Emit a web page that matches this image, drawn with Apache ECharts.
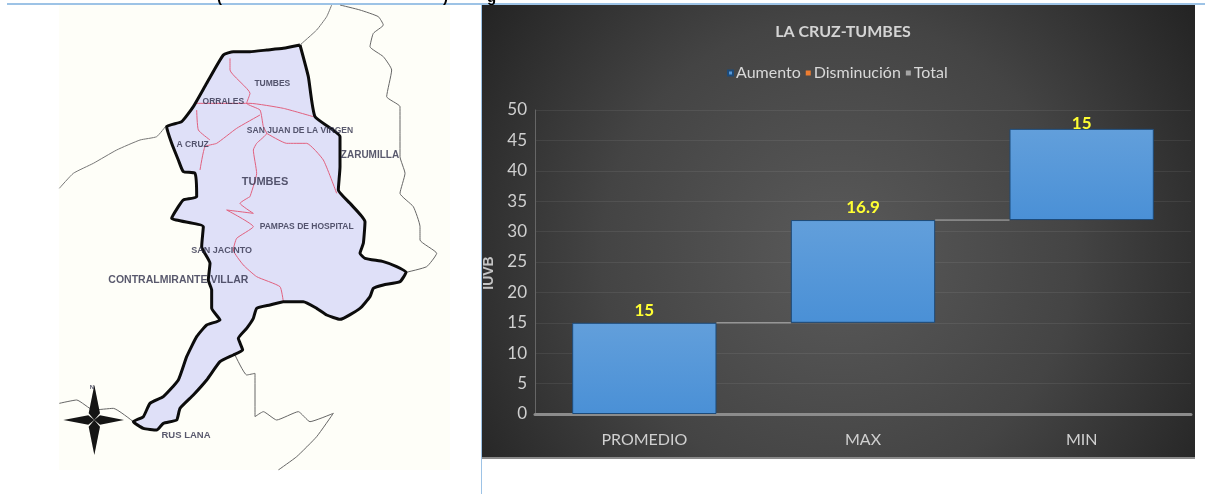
<!DOCTYPE html>
<html>
<head>
<meta charset="utf-8" />
<style>
  html, body { margin: 0; padding: 0; background: #fff; }
  #chart { width: 1205px; height: 494px; }
</style>
</head>
<body>
<div id="chart"></div>
<script src="https://cdn.jsdelivr.net/npm/echarts@6/dist/echarts.min.js"></script>
<script>
// waterfall values
const categories = ["PROMEDIO", "MAX", "MIN"];
const baseValues = [0, 15, 31.9];
const riseValues = [15, 16.9, 15];
const yTicks = [0, 5, 10, 15, 20, 25, 30, 35, 40, 45, 50];
const legendNames = ["Aumento", "Disminución", "Total"];

// map traces, in map units
const tumbesOutline = [
  [750, 135], [775, 230], [795, 350], [870, 410], [870, 500], [865, 570], [900, 610], [945, 665],
  [940, 730], [930, 760], [945, 775], [1000, 785], [1040, 800], [1068, 817], [1050, 845], [1000, 855],
  [970, 865], [960, 890], [930, 925], [870, 958], [830, 945], [800, 925], [760, 905], [700, 905],
  [660, 915], [620, 925], [610, 955], [590, 985], [565, 1015], [578, 1050], [550, 1065], [510, 1085],
  [470, 1140], [430, 1185], [390, 1225], [380, 1260], [340, 1270], [320, 1290], [280, 1285], [250, 1265],
  [280, 1250], [300, 1210], [340, 1190], [385, 1140], [410, 1070], [440, 1010], [470, 975], [510, 960],
  [485, 925], [485, 870], [475, 840], [480, 790], [455, 740], [460, 680], [365, 655], [385, 620],
  [400, 600], [440, 590], [435, 520], [400, 515], [385, 480], [365, 430], [350, 380], [395, 365],
  [430, 320], [470, 250], [520, 165], [550, 155], [600, 155], [650, 150], [700, 145], [750, 135]
];
const coastNorth = [[750, 135], [800, 90], [830, 50], [845, 15]];
const coastWest = [[350, 375], [320, 410], [270, 420], [200, 450], [130, 490], [70, 520], [28, 565]];
const borderEast = [
  [870, 15], [930, 30], [985, 50], [1000, 75], [970, 100], [960, 140], [1000, 170], [1025, 210],
  [1010, 290], [1050, 320], [1050, 400], [1050, 470], [1065, 520], [1050, 580], [1090, 620], [1110, 680],
  [1110, 720], [1160, 760], [1130, 800], [1068, 817]
];
const borderSouth = [
  [555, 1065], [590, 1125], [615, 1120], [615, 1250], [640, 1235], [680, 1260], [745, 1235], [780, 1265],
  [850, 1240], [800, 1310], [740, 1370], [685, 1410]
];
const borderWest = [[28, 1210], [80, 1200], [130, 1230], [190, 1225], [250, 1265]];
const roads = [
  [[540, 175], [540, 210], [600, 280], [590, 310], [630, 330], [640, 380], [650, 400], [620, 430], [610, 450], [620, 520], [600, 590]],
  [[440, 310], [600, 310], [700, 325], [790, 350]],
  [[630, 345], [560, 385], [500, 430], [465, 440], [450, 510]],
  [[440, 330], [445, 390], [480, 420]],
  [[650, 400], [710, 430], [770, 430], [820, 480], [860, 580]],
  [[600, 590], [570, 610], [610, 640], [530, 630], [610, 680], [560, 715], [550, 750], [580, 795], [620, 830], [690, 860], [700, 905]]
];
const compassArms = [
  [[133, 1155], [150, 1240], [133, 1260], [116, 1240]],
  [[133, 1365], [150, 1280], [133, 1260], [116, 1280]],
  [[40, 1260], [115, 1246], [133, 1260], [115, 1274]],
  [[222, 1260], [150, 1246], [133, 1260], [150, 1274]]
];
const placeNames = ["TUMBES", "ORRALES", "SAN JUAN DE LA VIRGEN", "A CRUZ", "TUMBES", "ZARUMILLA", "PAMPAS DE HOSPITAL", "SAN JACINTO", "CONTRALMIRANTE VILLAR", "RUS LANA", "N"];
const placeX = [667, 520, 750, 428, 645, 960, 770, 515, 385, 408, 126];
const placeY = [252, 306, 392, 435, 545, 465, 681, 752, 841, 1307, 1163];

const labelFont = "Lato, 'Liberation Sans', sans-serif";
const placeFontSizes = [8.5, 8.5, 8.5, 8.5, 11, 10, 8.5, 9, 10.5, 9.5, 6];

function pathSeries(points, width, color) {
  return {
    type: "line",
    xAxisIndex: 1,
    yAxisIndex: 1,
    data: points,
    symbol: "none",
    silent: true,
    smooth: 0.15,
    lineStyle: { width: width, color: color },
    z: 3,
  };
}

function polygonSeries(polygons, color, z) {
  return {
    type: "custom",
    xAxisIndex: 1,
    yAxisIndex: 1,
    silent: true,
    data: polygons.map((item, i) => [i]),
    encode: { x: -1, y: -1 },
    z: z,
    renderItem(params, api) {
      return {
        type: "polygon",
        shape: { points: polygons[params.dataIndex].map((p) => api.coord(p)) },
        style: { fill: color },
      };
    },
  };
}

const chart = echarts.init(document.getElementById("chart"));
chart.setOption({
  animation: false,
  backgroundColor: "#fff",
  graphic: [
    {
      type: "rect",
      z: -10,
      shape: { x: 482, y: 5, width: 713, height: 453 },
      style: {
        fill: new echarts.graphic.RadialGradient(0.5, 0.55, 0.95, [
          { offset: 0, color: "#5a5a5a" },
          { offset: 0.55, color: "#444" },
          { offset: 1, color: "#242424" },
        ]),
      },
    },
    { type: "rect", z: -9, shape: { x: 482, y: 457, width: 713, height: 2 }, style: { fill: "#8a8a8a" } },
    { type: "rect", z: -8, shape: { x: 7, y: 3, width: 1198, height: 2 }, style: { fill: "#9dc3e6" } },
    { type: "rect", z: -8, shape: { x: 481, y: 4, width: 1, height: 490 }, style: { fill: "#9dc3e6" } },
    { type: "text", z: -7, style: { text: "(", x: 217, y: -10, fill: "#000", font: "bold 15px 'Liberation Sans'" } },
    { type: "text", z: -7, style: { text: ")", x: 443, y: -10, fill: "#000", font: "bold 15px 'Liberation Sans'" } },
    { type: "text", z: -7, style: { text: "g", x: 487, y: -10, fill: "#000", font: "bold 15px 'Liberation Sans'" } },
  ],
  title: {
    text: "LA CRUZ-TUMBES",
    left: 838,
    top: 19,
    textAlign: "center",
    textStyle: { color: "#d4d4d4", fontFamily: labelFont, fontSize: 16, fontWeight: "bold" },
  },
  legend: {
    data: legendNames,
    left: 722,
    top: 60,
    itemWidth: 5,
    itemHeight: 5,
    itemGap: 5,
    icon: "rect",
    textStyle: { color: "#d8d8d8", fontFamily: labelFont, fontSize: 16, padding: [0, 0, 0, -2] },
  },
  grid: [
    { left: 535, right: 14, top: 110, bottom: 80 },
    { left: 59, top: 5, width: 391, height: 465, show: true, backgroundColor: "#fefef8", borderWidth: 0 },
  ],
  xAxis: [
    {
      type: "category",
      data: categories,
      axisTick: { show: false },
      axisLine: { lineStyle: { color: "#8c8c8c", width: 3 } },
      axisLabel: { color: "#d0d0d0", fontFamily: labelFont, fontSize: 16, margin: 18 },
    },
    { type: "value", gridIndex: 1, show: false, min: 27, max: 1200 },
  ],
  yAxis: [
    {
      type: "value",
      min: yTicks[0],
      max: yTicks[yTicks.length - 1],
      interval: yTicks[1] - yTicks[0],
      name: "IUVB",
      nameLocation: "middle",
      nameGap: 29,
      nameRotate: 90,
      nameTextStyle: { color: "#c4c4c4", fontFamily: "'Liberation Sans', sans-serif", fontSize: 14, fontWeight: "bold", padding: [0, 0, 0, -22] },
      axisTick: { show: false },
      axisLine: { show: true, lineStyle: { color: "#666" } },
      axisLabel: { color: "#cfcfcf", fontFamily: labelFont, fontSize: 17, margin: 8 },
      splitLine: { lineStyle: { color: "rgba(255,255,255,0.07)" } },
    },
    { type: "value", gridIndex: 1, show: false, inverse: true, min: 15, max: 1410 },
  ],
  series: [
    {
      name: "base",
      type: "bar",
      stack: "fall",
      silent: true,
      barCategoryGap: "34%",
      itemStyle: { color: "transparent" },
      data: baseValues,
    },
    {
      name: "Aumento",
      type: "bar",
      stack: "fall",
      itemStyle: {
        color: new echarts.graphic.LinearGradient(0, 0, 0, 1, [
          { offset: 0, color: "#629fdb" },
          { offset: 1, color: "#4a90d6" },
        ]),
        borderColor: "#1d4a78",
        borderWidth: 1,
      },
      data: riseValues.map((value, i) => ({
        value: value,
        label: {
          show: true,
          position: "top",
          distance: i === riseValues.length - 1 ? -3 : 4,
          color: "#ffff33",
          fontFamily: labelFont,
          fontSize: 17,
          fontWeight: "bold",
        },
      })),
    },
    { name: "Disminución", type: "bar", stack: "fall", itemStyle: { color: "#ed7d31" }, data: [] },
    { name: "Total", type: "bar", stack: "fall", itemStyle: { color: "#a5a5a5" }, data: [] },
    {
      // lineas entre barras
      type: "custom",
      silent: true,
      data: baseValues.slice(1),
      encode: { y: 0 },
      z: 3,
      renderItem(params, api) {
        const i = params.dataIndex;
        const value = api.value(0);
        const band = api.size([1, 0])[0];
        const half = band * 0.33;
        const from = api.coord([i, value]);
        const to = api.coord([i + 1, value]);
        return {
          type: "line",
          shape: { x1: from[0] + half, y1: from[1], x2: to[0] - half, y2: to[1] },
          style: { stroke: "#b4b4b4", lineWidth: 1 },
        };
      },
    },
    // mapa
    polygonSeries([tumbesOutline], "#dfe0f8", 1),
    pathSeries(coastNorth, 1, "#777"),
    pathSeries(coastWest, 1, "#777"),
    pathSeries(borderEast, 1, "#666"),
    pathSeries(borderSouth, 1, "#666"),
    pathSeries(borderWest, 1, "#666"),
    ...roads.map((road) => pathSeries(road, 1, "#e2607e")),
    pathSeries(tumbesOutline, 3, "#0c0c0c"),
    polygonSeries(compassArms, "#151515", 4),
    {
      type: "scatter",
      xAxisIndex: 1,
      yAxisIndex: 1,
      silent: true,
      symbolSize: 0,
      z: 5,
      data: placeNames.map((name, i) => ({
        value: [placeX[i], placeY[i]],
        label: {
          show: true,
          position: "inside",
          formatter: name,
          color: "#30304a",
          fontFamily: "'Liberation Sans', sans-serif",
          fontWeight: "bold",
          fontSize: placeFontSizes[i],
        },
      })),
    },
  ],
});
</script>
</body>
</html>
